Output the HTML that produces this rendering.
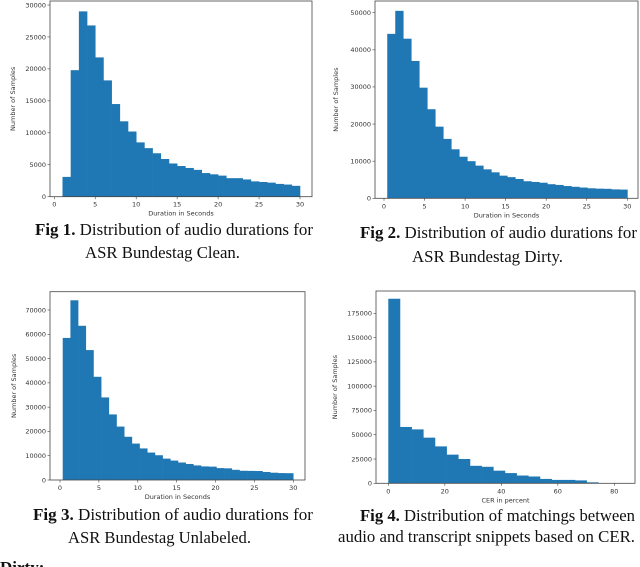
<!DOCTYPE html>
<html><head><meta charset="utf-8"><style>
html,body{margin:0;padding:0;background:#fff;width:640px;height:567px;overflow:hidden}
svg{display:block}
.tk{font-family:"DejaVu Sans","Liberation Sans",sans-serif;font-size:6.5px;fill:#333}
.cap{font-family:"Liberation Serif",serif;font-size:17px;fill:#111}
</style></head><body>
<svg id="fig" width="640" height="567" viewBox="0 0 640 567" xmlns="http://www.w3.org/2000/svg"></svg>
<script>
// Fig 1 data (Clean): bins 1..30 s, width 1
const clean_start = 1, clean_width = 1;
const clean_values = [3100,19800,29000,26800,21800,18200,14500,11800,10200,8500,7600,6800,5900,5200,4800,4500,4200,3700,3500,3300,2900,2900,2700,2400,2300,2200,2000,1900,1700];
const clean_xticks = [0,5,10,15,20,25,30];
const clean_yticks = [0,5000,10000,15000,20000,25000,30000];
// Fig 2 data (Dirty)
const dirty_start = 0.4, dirty_width = 0.987;
const dirty_values = [44300,50500,43000,37000,29800,24000,19300,16000,13200,11200,10000,8800,7800,7000,6100,5700,5200,4600,4400,4200,3800,3600,3300,3100,2900,2700,2600,2550,2400,2350];
const dirty_xticks = [0,5,10,15,20,25,30];
const dirty_yticks = [0,10000,20000,30000,40000,50000];
// Fig 3 data (Unlabeled)
const unl_start = 0.35, unl_width = 0.988;
const unl_values = [58500,74000,63500,53500,42500,34000,27000,22000,17800,15000,13000,11300,10200,8800,8000,7200,6600,6000,5600,5500,4900,4800,4200,3800,3750,3700,3300,3000,2850,2800];
const unl_xticks = [0,5,10,15,20,25,30];
const unl_yticks = [0,10000,20000,30000,40000,50000,60000,70000];
// Fig 4 data (CER)
const cer_start = 0, cer_width = 4.13;
const cer_values = [190000,58000,55500,47000,38000,29500,25000,18000,17000,13000,10500,8000,7000,4500,3500,3500,3000,1000,200,0];
const cer_xticks = [0,20,40,60,80];
const cer_yticks = [0,25000,50000,75000,100000,125000,150000,175000];

const NS = "http://www.w3.org/2000/svg";
const svg = document.getElementById('fig');
function mk(tag, attrs, parent){const e=document.createElementNS(NS,tag);for(const k in attrs)e.setAttribute(k,attrs[k]);(parent||svg).appendChild(e);return e;}

function chart(id, c, start, width, values, xticks, yticks){
  const g = mk('g',{});
  
  
  const sx = v => c.x0 + (v - c.xv0)*(c.x1 - c.x0)/(c.xv1 - c.xv0);
  const sy = v => c.y0 - v*(c.y0 - c.y1)/c.yv1;
  for (let i=0;i<values.length;i++){
    const a = sx(start + i*width), b = sx(start + (i+1)*width);
    const r = mk('rect',{x:a,y:sy(values[i]),width:b-a+0.3,height:c.y0-sy(values[i]),fill:'#1f77b4'},g);
    
    
  }
  const frame = mk('rect',{x:c.L,y:c.T,width:c.R-c.L,height:c.y0-c.T,fill:'none',stroke:'#444','stroke-width':0.8},g);
  
  
  xticks.forEach(t=>{
    const x=sx(t);
    mk('line',{x1:x,x2:x,y1:c.y0,y2:c.y0+2.5,stroke:'#444','stroke-width':0.6},g);
    const tx = mk('text',{x:x,y:c.y0+10,'text-anchor':'middle',class:'tk'},g);
    tx.textContent=t;
    
    
  });
  yticks.forEach(t=>{
    const y=sy(t);
    mk('line',{x1:c.L-2.5,x2:c.L,y1:y,y2:y,stroke:'#444','stroke-width':0.6},g);
    const tx = mk('text',{x:c.L-4,y:y+2.3,'text-anchor':'end',class:'tk'},g);
    tx.textContent=t;
    
    
  });
  const xl = mk('text',{x:(c.L+c.R)/2,y:c.y0+19,'text-anchor':'middle',class:'tk'},g);
  xl.textContent=c.xlabel;
  
  
  const yl = mk('text',{x:0,y:0,'text-anchor':'middle',class:'tk',transform:`translate(${c.yl},${(c.T+c.y0)/2}) rotate(-90)`},g);
  yl.textContent='Number of Samples';
  
  
}

chart('clean',{L:50,R:312,T:1,x0:54.3,x1:300,xv0:0,xv1:30,y0:196.7,y1:5,yv1:30000,xlabel:'Duration in Seconds',yl:15},clean_start,clean_width,clean_values,clean_xticks,clean_yticks);
chart('dirty',{L:375,R:638,T:1,x0:384,x1:627.3,xv0:0,xv1:30,y0:198.3,y1:12.7,yv1:50000,xlabel:'Duration in Seconds',yl:338},dirty_start,dirty_width,dirty_values,dirty_xticks,dirty_yticks);
chart('unlabeled',{L:50,R:305,T:291.7,x0:60,x1:293.3,xv0:0,xv1:30,y0:480,y1:310,yv1:70000,xlabel:'Duration in Seconds',yl:16},unl_start,unl_width,unl_values,unl_xticks,unl_yticks);
chart('cer',{L:376,R:635,T:291,x0:388.3,x1:614.3,xv0:0,xv1:80,y0:483.3,y1:313.3,yv1:175000,xlabel:'CER in percent',yl:337},cer_start,cer_width,cer_values,cer_xticks,cer_yticks);

function cap(name,x,y,w,bold,rest){
  const t = mk('text',{x:x,y:y,class:'cap',textLength:w,lengthAdjust:'spacingAndGlyphs'});
  
  
  if(bold){const b=mk('tspan',{'font-weight':'bold'},t);b.textContent=bold;}
  const r=mk('tspan',{},t);r.textContent=rest;
}
cap('fig1-caption-line1',35,235,278,'Fig 1.',' Distribution of audio durations for');
cap('fig1-caption-line2',85,258,155,'','ASR Bundestag Clean.');
cap('fig2-caption-line1',360,238,277,'Fig 2.',' Distribution of audio durations for');
cap('fig2-caption-line2',412,262,151,'','ASR Bundestag Dirty.');
cap('fig3-caption-line1',33,520,280,'Fig 3.','  Distribution of audio durations for');
cap('fig3-caption-line2',68,543,183,'','ASR Bundestag Unlabeled.');
cap('fig4-caption-line1',360,521,275,'Fig 4.',' Distribution of matchings between');
cap('fig4-caption-line2',338,542,297,'','audio and transcript snippets based on CER.');
const d = mk('text',{x:0,y:573,class:'cap','font-weight':'bold','font-size':'19'});
d.textContent='Dirty:';


</script>
</body></html>
